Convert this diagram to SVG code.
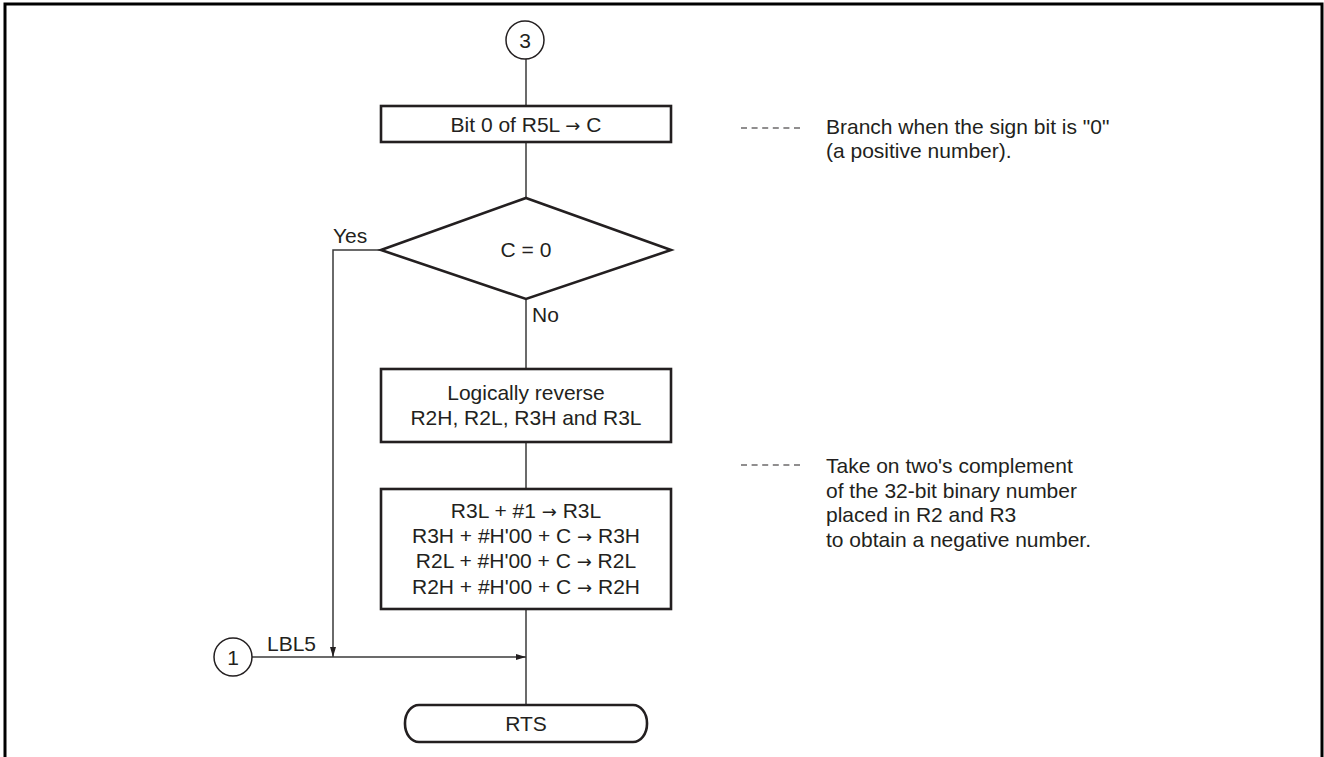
<svg xmlns="http://www.w3.org/2000/svg" width="1324" height="757" viewBox="0 0 1324 757">
<defs>
<style>
text{font-family:"Liberation Sans",Arial,sans-serif;font-size:21px;fill:#231f20}
.c{text-anchor:middle}
.ar{font-family:"DejaVu Sans",sans-serif;font-size:18px}
.box{fill:#fff;stroke:#231f20;stroke-width:2.6}
.ln{fill:none;stroke:#3a3a3a;stroke-width:1.5}
.dash{fill:none;stroke:#231f20;stroke-width:1.2;stroke-dasharray:6 4.6}
</style>
<marker id="ah" viewBox="0 0 10 10" refX="10" refY="5" markerWidth="10" markerHeight="10" markerUnits="userSpaceOnUse" orient="auto">
<path d="M0,2 L10,5 L0,8 Z" fill="#231f20"/>
</marker>
</defs>
<rect width="1324" height="757" fill="#fff"/>
<path d="M5,757 V4 H1322 V757" fill="none" stroke="#000" stroke-width="3"/>

<g id="connectors">
<path class="ln" d="M526,59 V106"/>
<path class="ln" d="M526,142 V198"/>
<path class="ln" d="M526,299 V369"/>
<path class="ln" d="M526,442 V489"/>
<path class="ln" d="M526,609 V705"/>
<path class="ln" d="M381,250 H333 V657" marker-end="url(#ah)"/>
<path class="ln" d="M252,657 H526" marker-end="url(#ah)"/>
<path class="dash" d="M741,128 H800"/>
<path class="dash" d="M741,465 H800"/>
</g>

<g id="n3">
<circle cx="525" cy="40" r="19" fill="#fff" stroke="#231f20" stroke-width="1.5"/>
<text class="c" x="525" y="48">3</text>
</g>

<g id="bit0">
<rect class="box" x="381" y="106" width="290" height="36"/>
<text class="c" x="526" y="132">Bit 0 of R5L <tspan class="ar">→</tspan> C</text>
</g>

<g id="decision">
<polygon class="box" points="526,198 671,250 526,299 381,250"/>
<text class="c" x="526" y="257">C = 0</text>
<text x="333" y="243">Yes</text>
<text x="532" y="322">No</text>
</g>

<g id="reverse">
<rect class="box" x="381" y="369" width="290" height="73"/>
<text class="c" x="526" y="400">Logically reverse</text>
<text class="c" x="526" y="425">R2H, R2L, R3H and R3L</text>
</g>

<g id="add">
<rect class="box" x="381" y="489" width="290" height="120"/>
<text class="c" x="526" y="518">R3L + #1 <tspan class="ar">→</tspan> R3L</text>
<text class="c" x="526" y="543">R3H + #H'00 + C <tspan class="ar">→</tspan> R3H</text>
<text class="c" x="526" y="568">R2L + #H'00 + C <tspan class="ar">→</tspan> R2L</text>
<text class="c" x="526" y="594">R2H + #H'00 + C <tspan class="ar">→</tspan> R2H</text>
</g>

<g id="n1">
<circle cx="233" cy="657" r="19" fill="#fff" stroke="#231f20" stroke-width="1.5"/>
<text class="c" x="233" y="665">1</text>
<text x="267" y="651">LBL5</text>
</g>

<g id="rts">
<rect class="box" x="405" y="705" width="242" height="37" rx="14" ry="18"/>
<text class="c" x="526" y="731">RTS</text>
</g>

<g id="note1">
<text x="826" y="134">Branch when the sign bit is "0"</text>
<text x="826" y="158">(a positive number).</text>
</g>

<g id="note2">
<text x="826" y="473">Take on two's complement</text>
<text x="826" y="498">of the 32-bit binary number</text>
<text x="826" y="522">placed in R2 and R3</text>
<text x="826" y="547">to obtain a negative number.</text>
</g>
</svg>
